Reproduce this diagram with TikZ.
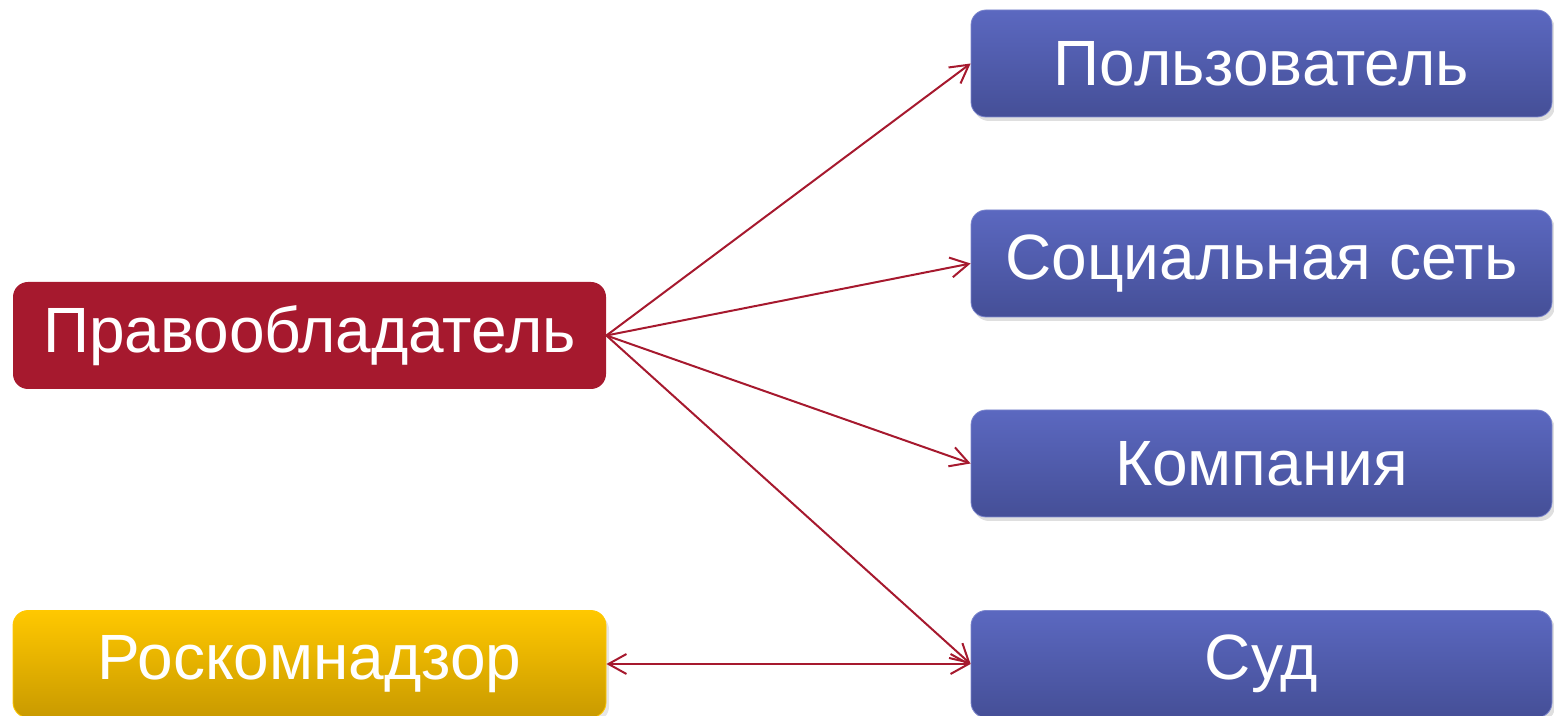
\documentclass[tikz,border=0pt]{standalone}
\usepackage{fontspec}
\setmainfont{Liberation Sans}
\usetikzlibrary{arrows.meta,shadows}
\definecolor{holderred}{HTML}{A6192E}
\definecolor{blueup}{HTML}{5B68C0}
\definecolor{bluedown}{HTML}{454F97}
\definecolor{yellowup}{HTML}{FFC800}
\definecolor{yellowdown}{HTML}{C99A00}
\begin{document}
\begin{tikzpicture}[x=0.5pt,y=0.5pt,
    party/.style={rounded corners=7.5pt, minimum height=53.5pt, inner sep=0pt,
        text=white, font=\fontsize{32}{38}\selectfont},
    redbox/.style={party, fill=holderred, minimum width=296.5pt},
    bluebox/.style={party, top color=blueup, bottom color=bluedown, draw=blueup!80!white,
        minimum width=290.5pt, drop shadow={shadow xshift=1.5pt, shadow yshift=-2pt, opacity=0.25}},
    yellowbox/.style={party, top color=yellowup, bottom color=yellowdown, draw=yellowup,
        minimum width=296.5pt, drop shadow={shadow xshift=1.5pt, shadow yshift=-2pt, opacity=0.2}},
    claim/.style={holderred, line width=1pt, -{Straight Barb[length=9pt,width=10pt]}}]
    \useasboundingbox (0,0) rectangle (1554,-716);
    \node[redbox] (holder) at (309.5,-335.5) {Правообладатель};
    \node[yellowbox] (rkn) at (309.5,-664) {Роскомнадзор};
    \node[bluebox] (user) at (1261.5,-63.5) {Пользователь};
    \node[bluebox] (net) at (1261.5,-263.5) {Социальная сеть};
    \node[bluebox] (firm) at (1261.5,-463.5) {Компания};
    \node[bluebox] (court) at (1261.5,-664) {Суд};
    \foreach \t in {user,net,firm,court}
        \draw[claim] (holder.east) -- (\t.west);
    \draw[claim, {Straight Barb[length=9pt,width=10pt]}-{Straight Barb[length=9pt,width=10pt]}] (rkn.east) -- (court.west);
\end{tikzpicture}
\end{document}
